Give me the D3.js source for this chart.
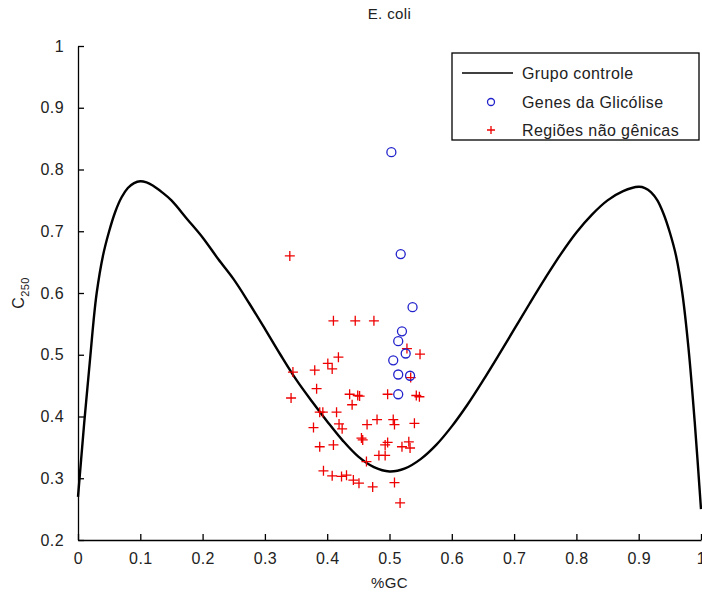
<!DOCTYPE html>
<html>
<head>
<meta charset="utf-8">
<script src="https://cdn.jsdelivr.net/npm/d3@7"></script>
<style>
  body { margin: 0; background: #fff; }
  text { font-family: "Liberation Sans", Arial, sans-serif; letter-spacing: 0.4px; }
</style>
</head>
<body>
<svg id="chart"></svg>
<script>
// control group curve (%GC, C250)
const curveX = [0, 0.005, 0.01, 0.015, 0.02, 0.025, 0.03, 0.04, 0.05, 0.06, 0.07, 0.08, 0.09, 0.1,
  0.11, 0.12, 0.135, 0.15, 0.175, 0.2, 0.225, 0.25, 0.275, 0.3, 0.325, 0.35, 0.375, 0.4, 0.425,
  0.45, 0.475, 0.5, 0.525, 0.55, 0.575, 0.6, 0.625, 0.65, 0.675, 0.7, 0.725, 0.75, 0.775, 0.8,
  0.825, 0.85, 0.875, 0.9, 0.91, 0.92, 0.93, 0.94, 0.95, 0.96, 0.97, 0.98, 0.99, 1];
const curveY = [0.27, 0.33, 0.39, 0.445, 0.50, 0.555, 0.60, 0.66, 0.70, 0.732, 0.755, 0.77, 0.778, 0.781,
  0.779, 0.774, 0.763, 0.75, 0.72, 0.69, 0.655, 0.622, 0.583, 0.542, 0.50, 0.46, 0.425, 0.392, 0.361,
  0.335, 0.318, 0.311, 0.316, 0.331, 0.354, 0.384, 0.419, 0.458, 0.499, 0.541, 0.583, 0.624, 0.663, 0.698,
  0.727, 0.75, 0.765, 0.772, 0.770, 0.763, 0.75, 0.728, 0.698, 0.66, 0.60, 0.51, 0.39, 0.25];

// glycolysis genes
const geneX = [0.503, 0.518, 0.537, 0.520, 0.514, 0.526, 0.506, 0.514, 0.533, 0.514];
const geneY = [0.828, 0.663, 0.577, 0.538, 0.522, 0.502, 0.491, 0.468, 0.466, 0.436];

// non-genic regions
const regX = [0.340, 0.345, 0.342, 0.410, 0.445, 0.475, 0.528, 0.549, 0.418, 0.401, 0.408, 0.380,
  0.534, 0.383, 0.436, 0.449, 0.452, 0.497, 0.543, 0.548, 0.440, 0.388, 0.393, 0.415, 0.378,
  0.419, 0.424, 0.464, 0.480, 0.506, 0.508, 0.540, 0.455, 0.457, 0.388, 0.410, 0.497, 0.493,
  0.531, 0.533, 0.520, 0.483, 0.493, 0.463, 0.394, 0.408, 0.423, 0.431, 0.442, 0.451, 0.473,
  0.508, 0.517];
const regY = [0.660, 0.472, 0.430, 0.555, 0.555, 0.555, 0.510, 0.501, 0.496, 0.486, 0.477, 0.475,
  0.463, 0.445, 0.436, 0.434, 0.433, 0.436, 0.434, 0.432, 0.419, 0.407, 0.407, 0.407, 0.382,
  0.388, 0.380, 0.387, 0.395, 0.395, 0.387, 0.389, 0.365, 0.362, 0.351, 0.354, 0.358, 0.354,
  0.359, 0.349, 0.351, 0.337, 0.337, 0.327, 0.312, 0.304, 0.303, 0.305, 0.297, 0.292, 0.286,
  0.293, 0.260];

const xTicks = [0, 0.1, 0.2, 0.3, 0.4, 0.5, 0.6, 0.7, 0.8, 0.9, 1];
const yTicks = [0.2, 0.3, 0.4, 0.5, 0.6, 0.7, 0.8, 0.9, 1];

const width = 702, height = 592;
const margin = { top: 46, right: 1, bottom: 52, left: 78 };

const svg = d3.select('#chart')
  .attr('width', width)
  .attr('height', height);

const x = d3.scaleLinear().domain([0, 1]).range([margin.left, width - margin.right]);
const y = d3.scaleLinear().domain([0.2, 1]).range([height - margin.bottom, margin.top]);

// axes (ticks pointing inward, MATLAB style)
const xAxis = svg.append('g')
  .attr('transform', `translate(0,${height - margin.bottom})`)
  .call(d3.axisBottom(x).tickValues(xTicks).tickSizeInner(-6).tickSizeOuter(0)
    .tickPadding(13).tickFormat(d3.format('~g')));
const yAxis = svg.append('g')
  .attr('transform', `translate(${margin.left},0)`)
  .call(d3.axisLeft(y).tickValues(yTicks).tickSizeInner(-6).tickSizeOuter(0)
    .tickPadding(14).tickFormat(d3.format('~g')));

[xAxis, yAxis].forEach(a => {
  a.select('.domain').attr('stroke', '#000').attr('stroke-width', 1.3);
  a.selectAll('.tick line').attr('stroke', '#000').attr('stroke-width', 1.3);
  a.selectAll('.tick text').attr('font-size', 16).attr('fill', '#222')
    .style('font-family', '"Liberation Sans", Arial, sans-serif');
});

// control curve
const line = d3.line()
  .x((d, i) => x(curveX[i]))
  .y(d => y(d))
  .curve(d3.curveCatmullRom.alpha(0.5));

svg.append('path')
  .datum(curveY)
  .attr('d', line)
  .attr('fill', 'none')
  .attr('stroke', '#000')
  .attr('stroke-width', 2.4);

// non-genic regions as red plus signs
const cross = 5;
svg.append('g').selectAll('path')
  .data(regX)
  .join('path')
  .attr('d', (d, i) => {
    const cx = x(d), cy = y(regY[i]);
    return `M${cx - cross},${cy}H${cx + cross}M${cx},${cy - cross}V${cy + cross}`;
  })
  .attr('stroke', '#ee0000')
  .attr('stroke-width', 1.3)
  .attr('fill', 'none');

// glycolysis genes as blue circles
svg.append('g').selectAll('circle')
  .data(geneX)
  .join('circle')
  .attr('cx', d => x(d))
  .attr('cy', (d, i) => y(geneY[i]))
  .attr('r', 4.5)
  .attr('fill', 'none')
  .attr('stroke', '#2222cc')
  .attr('stroke-width', 1.3);

// title and labels
svg.append('text')
  .attr('x', (x(0) + x(1)) / 2)
  .attr('y', 19)
  .attr('text-anchor', 'middle')
  .attr('font-size', 15)
  .attr('fill', '#222')
  .text('E. coli');

svg.append('text')
  .attr('x', (x(0) + x(1)) / 2)
  .attr('y', 588)
  .attr('text-anchor', 'middle')
  .attr('font-size', 15)
  .attr('fill', '#222')
  .text('%GC');

const yl = svg.append('text')
  .attr('transform', `translate(24,${(y(0.2) + y(1)) / 2}) rotate(-90)`)
  .attr('text-anchor', 'middle')
  .attr('font-size', 16)
  .attr('fill', '#222');
yl.append('tspan').text('C');
yl.append('tspan').attr('font-size', 11).attr('dy', 5).text('250');

// legend
const lg = svg.append('g');
lg.append('rect')
  .attr('x', 452).attr('y', 53)
  .attr('width', 247).attr('height', 87)
  .attr('fill', '#fff')
  .attr('stroke', '#000')
  .attr('stroke-width', 1.3);

const rows = [73, 102, 130];
const legendLabels = ['Grupo controle', 'Genes da Glicólise', 'Regiões não gênicas'];

lg.append('line')
  .attr('x1', 462).attr('x2', 513)
  .attr('y1', rows[0]).attr('y2', rows[0])
  .attr('stroke', '#000').attr('stroke-width', 1.5);
lg.append('circle')
  .attr('cx', 491).attr('cy', rows[1]).attr('r', 3.5)
  .attr('fill', 'none').attr('stroke', '#2222cc').attr('stroke-width', 1.3);
lg.append('path')
  .attr('d', `M${487},${rows[2]}H${495}M${491},${rows[2] - 4}V${rows[2] + 4}`)
  .attr('stroke', '#ee0000').attr('stroke-width', 1.3);

lg.selectAll('text.lab')
  .data(legendLabels)
  .join('text')
  .attr('class', 'lab')
  .attr('x', 522)
  .attr('y', (d, i) => rows[i] + 5.5)
  .attr('font-size', 16)
  .attr('fill', '#222')
  .text(d => d);
</script>
</body>
</html>
